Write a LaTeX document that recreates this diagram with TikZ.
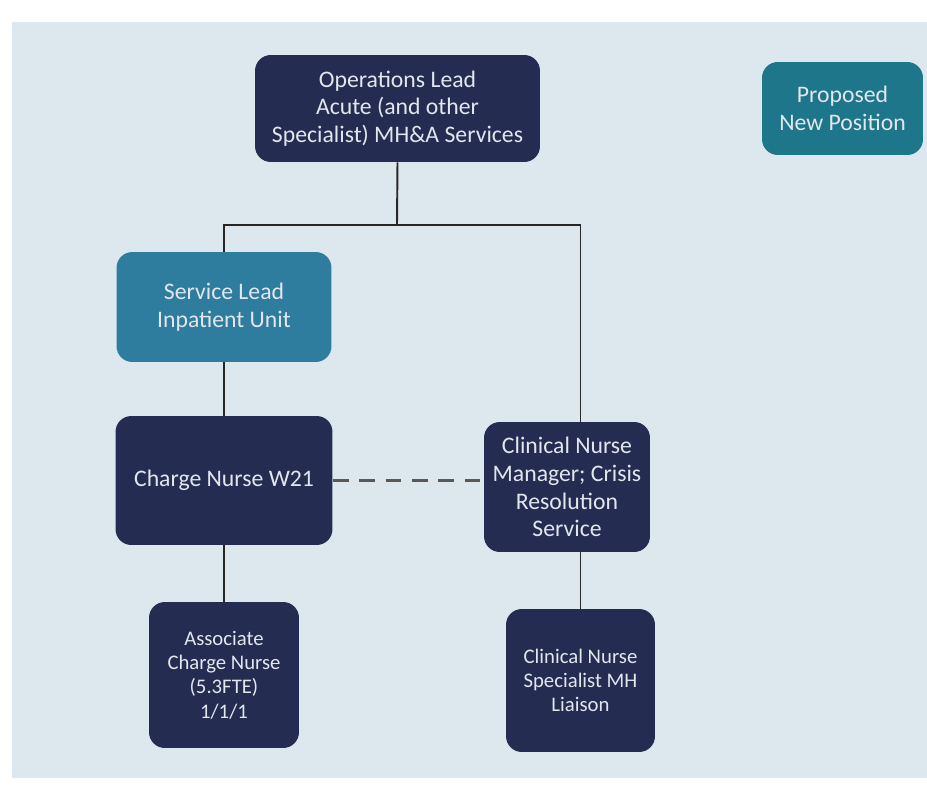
\documentclass[tikz,border=0pt]{standalone}
\usepackage{fontspec}
\setmainfont{Carlito}
\usetikzlibrary{positioning}
\definecolor{orgnavy}{RGB}{36,44,82}
\definecolor{orgteal}{RGB}{30,118,138}
\definecolor{orgblue}{RGB}{46,124,158}
\definecolor{orgpage}{RGB}{221,231,238}
\definecolor{orgtext}{RGB}{226,231,237}

\begin{document}
\begin{tikzpicture}[x=0.02cm, y=-0.02cm,
      post/.style={rounded corners=9pt, align=center, inner sep=4pt, text=orgtext, font=\fontsize{13.5}{15.8}\selectfont},
      smallpost/.style={post, font=\fontsize{11.8}{13.8}\selectfont},
      link/.style={line width=1.1pt, draw=black!85}
    ]
      \useasboundingbox (0,0) rectangle (927,788);
      \fill[white] (0,0) rectangle (927,788);
      \fill[orgpage] (12,22) rectangle (927,778);

      % Top level
      \node[post, fill=orgnavy, minimum width=5.7cm, minimum height=2.14cm] (ops) at (397.5,108.5)
        {Operations Lead\\Acute (and other\\Specialist) MH\&A Services};
      \node[post, fill=orgteal, minimum width=3.22cm, minimum height=1.86cm] (newpos) at (842.5,108.5)
        {Proposed\\New Position};

      % Second level
      \node[post, fill=orgblue, minimum width=4.3cm, minimum height=2.2cm] (svclead) at (224,307)
        {Service Lead\\Inpatient Unit};
      \node[post, fill=orgnavy, minimum width=4.34cm, minimum height=2.58cm] (charge) at (224,480.5)
        {Charge Nurse W21};
      \node[post, fill=orgnavy, minimum width=3.32cm, minimum height=2.6cm] (cnm) at (567,487)
        {Clinical Nurse\\Manager; Crisis\\Resolution\\Service};

      % Bottom level
      \node[smallpost, fill=orgnavy, minimum width=3.0cm, minimum height=2.92cm] (assoc) at (224,675)
        {Associate\\Charge Nurse\\(5.3FTE)\\1/1/1};
      \node[smallpost, fill=orgnavy, minimum width=2.98cm, minimum height=2.86cm] (cns) at (580.5,680.5)
        {Clinical Nurse\\Specialist MH\\Liaison};

      % Reporting lines
      \coordinate (bar) at (397,225);
      \draw[link] (ops.south) -- (bar);
      \draw[link] (svclead.north) |- (bar) -| (cnm.north -| cns.north);
      \draw[link] (svclead.south) -- (charge.north);
      \draw[link] (charge.south) -- (assoc.north);
      \draw[link] (cnm.south -| cns.north) -- (cns.north);
      \draw[line width=2.2pt, draw=black!65, dash pattern=on 9pt off 6pt] (charge.east) -- (charge.east -| cnm.west);
    \end{tikzpicture}
\end{document}
